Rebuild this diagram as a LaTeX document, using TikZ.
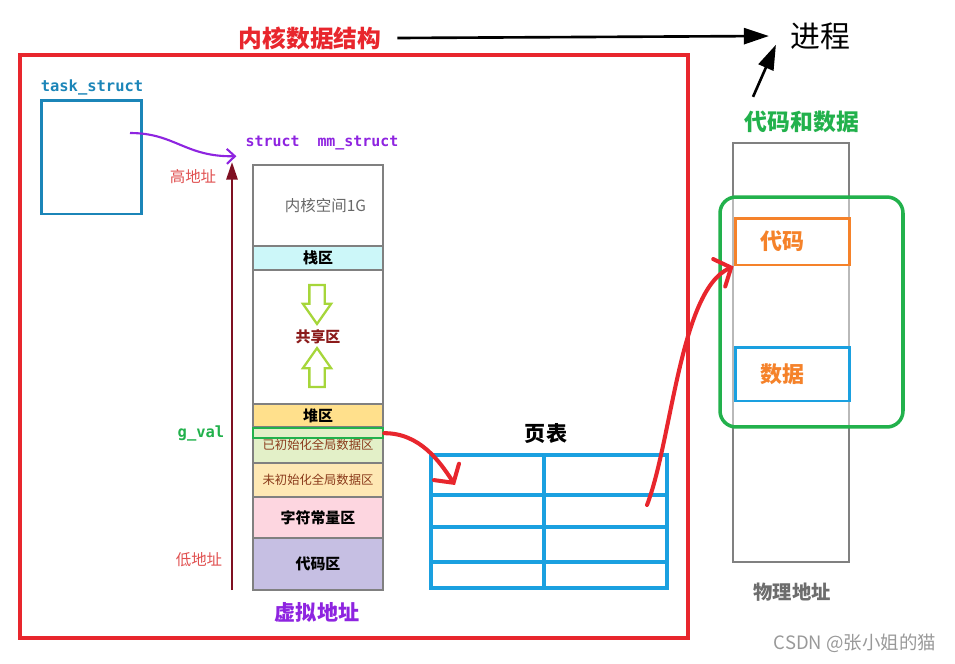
\documentclass[tikz,border=0pt]{standalone}
\usepackage{fontspec}
\setmainfont{Noto Sans CJK SC}
\setmonofont{DejaVu Sans Mono}
\usepackage{tikz}
\usetikzlibrary{arrows.meta,positioning,shapes.arrows}

\definecolor{kred}{HTML}{E8262D}
\definecolor{taskblue}{HTML}{1B85B8}
\definecolor{mmpurple}{HTML}{8E24E0}
\definecolor{addrred}{HTML}{7F1022}
\definecolor{addrtxt}{HTML}{E05050}
\definecolor{segline}{HTML}{808080}
\definecolor{stackfill}{HTML}{CCF7F9}
\definecolor{heapfill}{HTML}{FFE08C}
\definecolor{initfill}{HTML}{E3F0C8}
\definecolor{uninitfill}{HTML}{FEE8B4}
\definecolor{constfill}{HTML}{FDD6E0}
\definecolor{codefill}{HTML}{C6BFE3}
\definecolor{segtxt}{HTML}{8A3A1A}
\definecolor{sharetxt}{HTML}{8B1A1A}
\definecolor{growcol}{HTML}{A6D63A}
\definecolor{ptblue}{HTML}{1AA0E0}
\definecolor{pgreen}{HTML}{22B14C}
\definecolor{porange}{HTML}{F5822A}

\begin{document}
\begin{tikzpicture}[
  x=0.02cm, y=-0.02cm,
  seg/.style={draw=segline, line width=0.8pt, minimum width=2.6cm, inner sep=0pt, outer sep=0pt,
    font=\fontsize{8.5}{10}\selectfont\bfseries},
  smallseg/.style={seg, font=\fontsize{7}{8}\selectfont, text=segtxt},
  growarrow/.style={single arrow, draw=growcol, line width=1.3pt, fill=white, inner sep=0.13cm,
    single arrow head extend=0.13cm, single arrow tip angle=70, minimum height=0.78cm},
  ptline/.style={draw=ptblue, line width=2.8pt},
  redarr/.style={draw=kred, line width=2.3pt, line cap=round,
    -{Straight Barb[length=2.6mm, width=6mm, line cap=round]}},
  blackarr/.style={line width=1.5pt, -{Triangle[length=5mm, width=3.2mm]}},
  monolbl/.style={font=\fontsize{8.8}{10}\selectfont\ttfamily\bfseries}
]
  \useasboundingbox (0,0) rectangle (955,663);

  % kernel side
  \node[draw=kred, line width=2.3pt, minimum width=13.36cm, minimum height=11.66cm] (kernelbox) at (354,346.5) {};
  \node[text=kred, font=\fontsize{13.5}{15}\selectfont\bfseries] (title) at (310,38) {内核数据结构};
  \node[font=\fontsize{17}{19}\selectfont] (proc) at (820,36) {进程};
  \node[text=pgreen, font=\fontsize{13}{15}\selectfont\bfseries] (cdlabel) at (802,122) {代码和数据};

  \node[draw=taskblue, line width=1.7pt, minimum width=2.02cm, minimum height=2.28cm] (task) at (91.5,157) {};
  \node[monolbl, text=taskblue] (tasklbl) at (92,87) {task\_struct};
  \node[monolbl, text=mmpurple, font=\fontsize{8.5}{10}\selectfont\ttfamily\bfseries] (mmlbl) at (322,143) {struct\ \ mm\_struct};

  % virtual address space
  \node[seg, minimum height=1.62cm, font=\fontsize{8.8}{10}\selectfont, text=segline!80!black] (kernel) at (318,205.5) {\hspace*{0.3cm}内核空间1G};
  \node[seg, below=0pt of kernel, minimum height=0.48cm, fill=stackfill] (stack) {栈区};
  \node[seg, below=0pt of stack, minimum height=2.68cm, text=sharetxt] (shared) {共享区};
  \node[seg, below=0pt of shared, minimum height=0.46cm, fill=heapfill] (heap) {堆区};
  \node[smallseg, below=0pt of heap, minimum height=0.72cm, fill=initfill] (init) {\raisebox{-0.6ex}{已初始化全局数据区}};
  \node[smallseg, below=0pt of init, minimum height=0.68cm, fill=uninitfill] (uninit) {未初始化全局数据区};
  \node[seg, below=0pt of uninit, minimum height=0.82cm, fill=constfill] (const) {字符常量区};
  \node[seg, below=0pt of const, minimum height=1.04cm, fill=codefill] (code) {代码区};
  \node[draw=pgreen, line width=1.4pt, minimum width=2.6cm, minimum height=0.2cm, inner sep=0pt, anchor=north] (gvalcell) at (init.north) {};

  \node[growarrow, rotate=-90] (growdown) at (317,299) {};
  \node[growarrow, rotate=90] (growup) at (317,373) {};

  \node[text=mmpurple, font=\fontsize{12}{14}\selectfont\bfseries] (vlbl) at (317,612) {虚拟地址};
  \node[monolbl, text=pgreen] (gvallbl) at (201,433) {g\_val};
  \node[text=addrtxt, font=\fontsize{8.8}{10}\selectfont] (hilbl) at (193,177) {高地址};
  \node[text=addrtxt, font=\fontsize{8.8}{10}\selectfont] (lolbl) at (199,560) {低地址};
  \coordinate (lowend) at (232,590);
  \coordinate (highend) at (232,162);

  % page table
  \node[font=\fontsize{12}{14}\selectfont\bfseries] (ptlbl) at (546,433) {页表};
  \node[ptline, minimum width=4.72cm, minimum height=2.66cm] (ptable) at (549,521.5) {};
  \foreach \y in {495,527,562}
    \draw[ptline] (431,\y) -- (667,\y);
  \draw[ptline] (544,455) -- (544,588);
  \coordinate (ptin) at (455,485);
  \coordinate (ptout) at (647,505);

  % physical memory
  \node[draw=segline, line width=1.2pt, minimum width=2.32cm, minimum height=8.38cm] (phys) at (791,352.5) {};
  \node[draw=pgreen, line width=2pt, rounded corners=0.32cm, fill=white, fill opacity=0.45,
    minimum width=3.66cm, minimum height=4.6cm] (pgroup) at (811.5,312) {};
  \node[draw=porange, line width=1.7pt, fill=white, text=porange, minimum width=2.28cm, minimum height=0.94cm,
    font=\fontsize{12.5}{14}\selectfont\bfseries] (pcode) at (792,241.5) {代码\hspace*{0.4cm}};
  \node[draw=ptblue, line width=1.7pt, fill=white, text=porange, minimum width=2.28cm, minimum height=1.08cm,
    font=\fontsize{12.5}{14}\selectfont\bfseries] (pdata) at (792,374) {数据\hspace*{0.4cm}};
  \node[text=segline!85!black, font=\fontsize{11}{13}\selectfont\bfseries] (plbl) at (792,592) {物理地址};
  \node[text=black!40, font=\fontsize{10.5}{12}\selectfont] (mark) at (855,643) {CSDN @张小姐的猫};

  % connectors
  \draw[blackarr] ([xshift=0.2cm]title.east) -- ([xshift=-0.3cm]proc.west);
  \draw[blackarr] ([xshift=-0.98cm, yshift=0.16cm]cdlabel.north) -- ([xshift=-0.16cm, yshift=0.22cm]proc.south west);
  \draw[draw=mmpurple, line width=1.2pt, -{Straight Barb[length=1.6mm, width=3mm]}]
    (130,133) .. controls (175,133) and (185,157) .. ([xshift=-0.06cm]mmlbl.south west);
  \draw[draw=addrred, line width=1.5pt, -{Triangle[length=3.5mm, width=2.2mm]}] (lowend) -- (highend);
  \draw[redarr] (gvalcell.east) .. controls (420,433) and (440,462) .. (ptin);
  \draw[redarr] (ptout) .. controls (672,440) and (680,290) .. (pcode.south west);
\end{tikzpicture}
\end{document}
